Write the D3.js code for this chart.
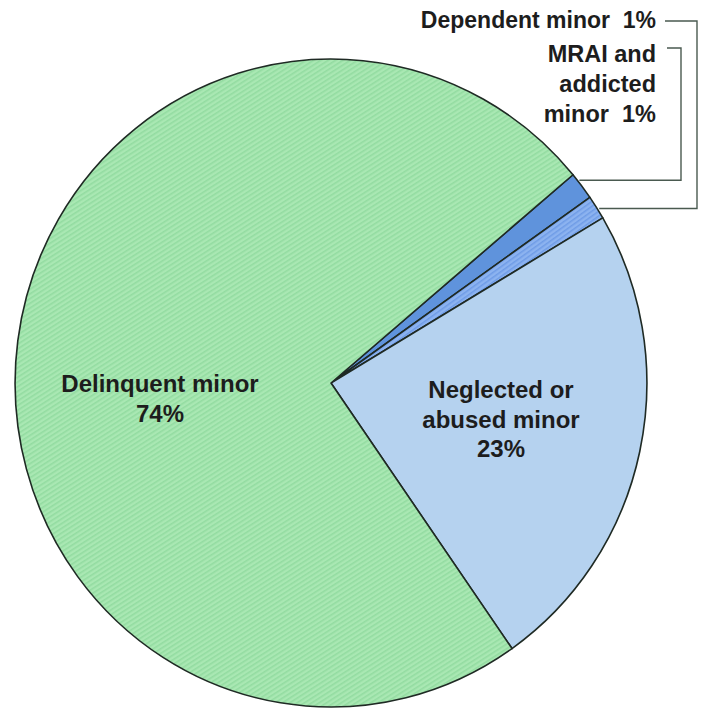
<!DOCTYPE html>
<html>
<head>
<meta charset="utf-8">
<script src="https://cdn.jsdelivr.net/npm/d3@7"></script>
<style>
  html, body { margin: 0; padding: 0; background: #ffffff; }
  svg { display: block; }
  text { font-family: "Liberation Sans", Arial, Helvetica, sans-serif; font-weight: bold; fill: #1d1d1d; }
</style>
</head>
<body>
<svg id="chart" width="704" height="710"></svg>
<script>
// Data (clockwise order starting at the MRAI slice)
const categories = ["MRAI and addicted minor", "Dependent minor", "Neglected or abused minor", "Delinquent minor"];
const values = [1.4, 1.2, 23.8, 73.6];          // estimated slice sizes from the picture
const percentLabels = ["1%", "1%", "23%", "74%"]; // printed labels

const width = 704, height = 710;
const cx = 331, cy = 383, radius = 324, sx = 0.975;
const startDeg = 50;

const svg = d3.select("#chart");
const defs = svg.append("defs");

// stripe pattern for green
const pg = defs.append("pattern").attr("id", "stripeGreen").attr("patternUnits", "userSpaceOnUse")
  .attr("width", 4).attr("height", 4).attr("patternTransform", "rotate(-32)");
pg.append("rect").attr("width", 4).attr("height", 4).attr("fill", "#a9e8b3");
pg.append("rect").attr("width", 4).attr("height", 1.6).attr("fill", "#93dca1");

const pm = defs.append("pattern").attr("id", "stripeMed").attr("patternUnits", "userSpaceOnUse")
  .attr("width", 4).attr("height", 4).attr("patternTransform", "rotate(-35)");
pm.append("rect").attr("width", 4).attr("height", 4).attr("fill", "#8cb3f0");
pm.append("rect").attr("width", 4).attr("height", 1.5).attr("fill", "#6f9ce6");

const fillRefs = ["#5f93dc", "url(#stripeMed)", "#b5d2ef", "url(#stripeGreen)"];

const pie = d3.pie().sort(null)
  .startAngle(startDeg * Math.PI / 180)
  .endAngle((startDeg + 360) * Math.PI / 180);
const arcs = pie(values);
const arc = d3.arc().innerRadius(0).outerRadius(radius);

const g = svg.append("g").attr("transform", `translate(${cx},${cy}) scale(${sx},1)`);
g.selectAll("path.slice").data(arcs).enter().append("path")
  .attr("class", "slice")
  .attr("d", arc)
  .attr("fill", (d, i) => fillRefs[i])
  .attr("stroke", "#1f2a24")
  .attr("stroke-width", 1.6)
  .attr("vector-effect", "non-scaling-stroke")
  .attr("stroke-linejoin", "round");

// Inner labels
function innerLabel(lines, x, y0, step) {
  const t = svg.append("text").attr("text-anchor", "middle").style("font-size", "24px");
  lines.forEach((l, k) => t.append("tspan").attr("x", x).attr("y", y0 + k * step).text(l));
}
innerLabel(["Delinquent minor", percentLabels[3]], 160, 392, 30);
innerLabel(["Neglected or", "abused minor", percentLabels[2]], 501, 398, 29.5);

// Outer labels (right-aligned)
const rx = 656;
svg.append("text").attr("x", rx).attr("y", 28).attr("text-anchor", "end").style("font-size", "23px")
  .attr("xml:space", "preserve")
  .text(categories[1] + "  " + percentLabels[1]);
const mt = svg.append("text").attr("text-anchor", "end").style("font-size", "23.5px").attr("xml:space", "preserve");
["MRAI and", "addicted", "minor  " + percentLabels[0]].forEach((l, k) =>
  mt.append("tspan").attr("x", rx).attr("y", 62 + k * 30).text(l));

// Leader lines pointing to the slices on the rim
function rimPoint(d, f) {
  const a = d.startAngle + (d.endAngle - d.startAngle) * f;
  return [cx + sx * radius * Math.sin(a), cy - radius * Math.cos(a)];
}
const pMRAI = rimPoint(arcs[0], 0.25);
const pDep = rimPoint(arcs[1], 0.55);
const line = d3.line();
svg.append("path").attr("d", line([[665, 21], [697, 21], [697, pDep[1]], [pDep[0] + 2, pDep[1]]]))
  .attr("fill", "none").attr("stroke", "#4a5a50").attr("stroke-width", 1.4);
svg.append("path").attr("d", line([[667, 48], [681, 48], [681, pMRAI[1]], [pMRAI[0] + 2, pMRAI[1]]]))
  .attr("fill", "none").attr("stroke", "#4a5a50").attr("stroke-width", 1.4);
</script>
</body>
</html>
